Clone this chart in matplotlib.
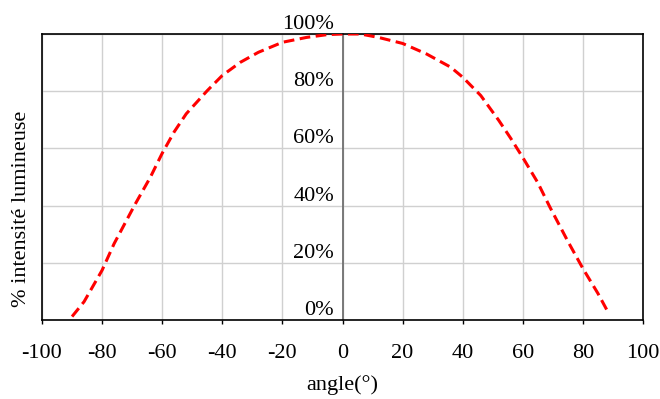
import matplotlib.pyplot as plt
import numpy as np

# valeurs
angles = [-90, -86, -80, -76, -69, -64, -60, -56, -52, -45, -40, -34, -28,
          -20, -12, -5, 0, 6, 12, 20, 28, 36, 40, 46, 52, 56, 60, 65, 69,
          75, 80, 85, 88.6]
intensite = [1.2, 6.4, 17.4, 26.7, 40.5, 49.8, 58.3, 65.8, 72.1, 80.2, 85.5,
             90.1, 93.6, 97.1, 98.8, 99.8, 100, 100, 98.8, 96.7, 93, 88.4,
             84.9, 78.5, 69.8, 63.5, 56.8, 48, 39.5, 27.5, 18, 9.3, 2.3]

xticks = [-100, -80, -60, -40, -20, 0, 20, 40, 60, 80, 100]
yticks = [0, 20, 40, 60, 80, 100]
ylabels = ["0%", "20%", "40%", "60%", "80%", "100%"]

plt.rcParams['font.family'] = 'Liberation Serif'
plt.rcParams['axes.unicode_minus'] = False

fig = plt.figure(figsize=(6.6, 3.99), dpi=100)
ax = fig.add_axes([42/660, 1-320/399, (643-42)/660, (320-34)/399])

ax.plot(angles, intensite, color='red', lw=2.2, dashes=(3.5, 1.8), zorder=3)

ax.set_xlim(-100, 100)
ax.set_ylim(0, 100)
ax.set_xticks(xticks)
ax.set_yticks(yticks)
ax.set_yticklabels(ylabels)
ax.grid(True, color='#d0d0d0', lw=1)

# axe vertical au centre
ax.spines['left'].set_position(('data', 0))
ax.spines['left'].set_color('#707070')
ax.spines['left'].set_linewidth(1.3)
for s in ['top', 'right', 'bottom']:
    ax.spines[s].set_color('black')
    ax.spines[s].set_linewidth(1.2)
ax.axvline(-100, color='black', lw=1.2, clip_on=False, zorder=4)

ax.tick_params(axis='y', length=0, pad=6, labelsize=16)
for lab in ax.get_yticklabels():
    lab.set_va('bottom')
ax.tick_params(axis='x', direction='out', length=3, width=1, pad=14, labelsize=16)

ax.set_xlabel("angle(°)", fontsize=16, labelpad=9)
fig.text(22/660, 1-209/399, "% intensité lumineuse", rotation=90,
         ha='center', va='center', fontsize=16)

plt.savefig("out.png", dpi=100)
